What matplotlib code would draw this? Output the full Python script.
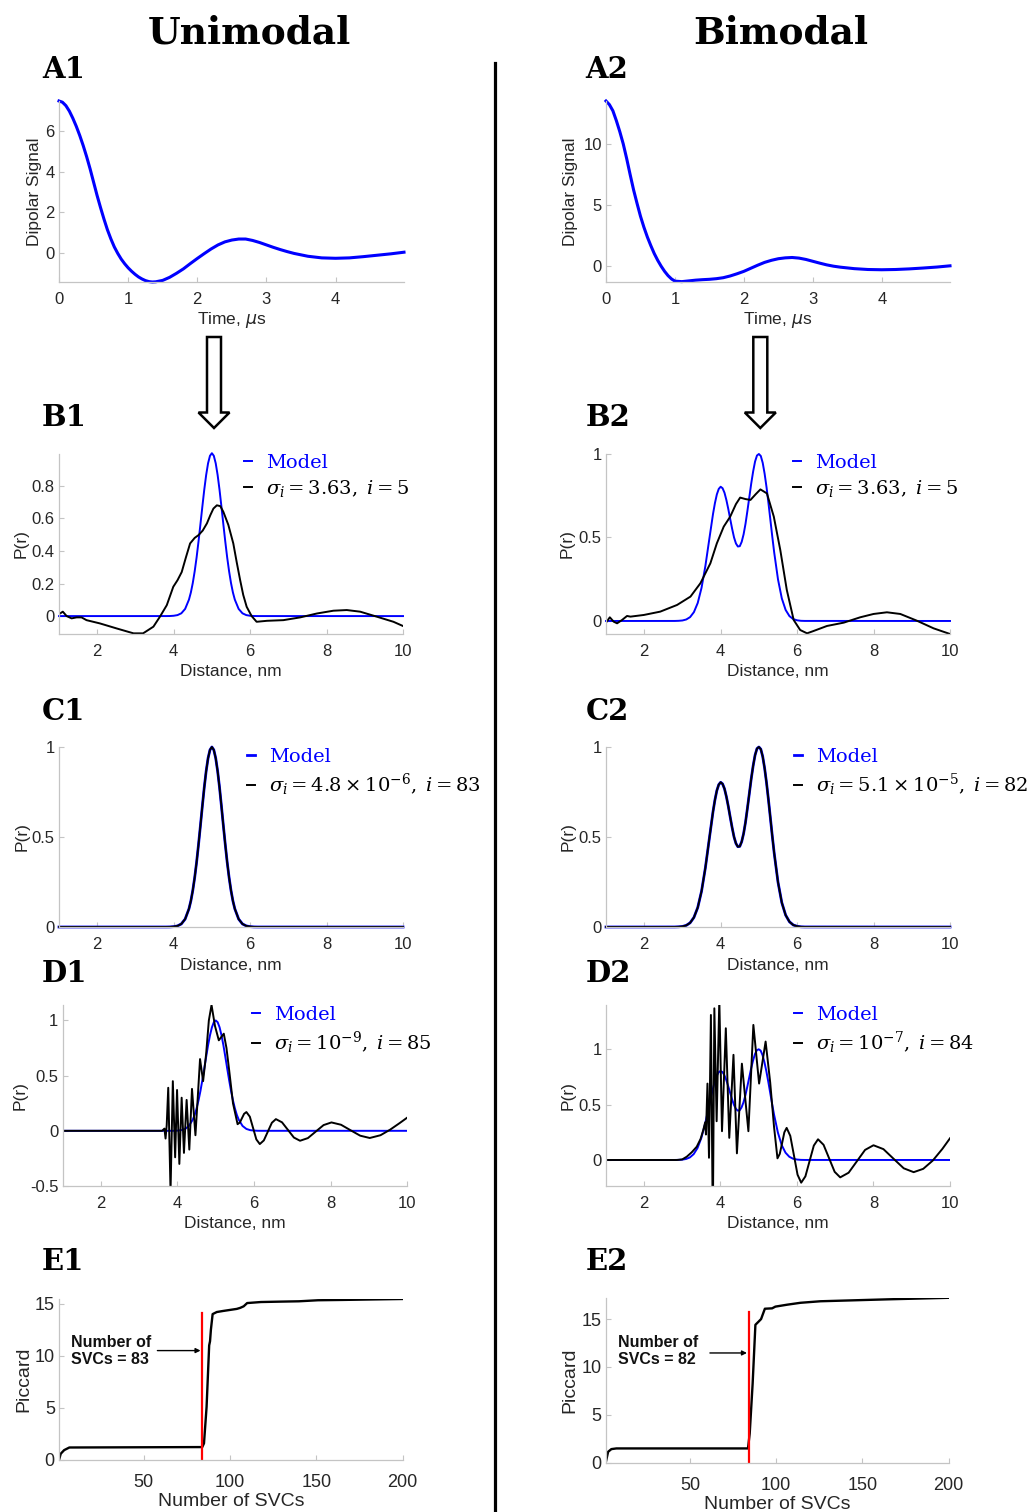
import matplotlib
matplotlib.use('Agg')
import matplotlib.pyplot as plt
from matplotlib.lines import Line2D
from matplotlib.patches import FancyArrow
from matplotlib.font_manager import FontProperties
from matplotlib.ticker import FuncFormatter

W, H = 1035, 1512
plt.rcParams['font.family'] = ['Liberation Sans', 'DejaVu Sans']
plt.rcParams['axes.unicode_minus'] = False

# ---------------- data ----------------
# A1 dipolar signal (unimodal)
a1_t = [0, 0.05, 0.1, 0.15, 0.2, 0.25, 0.3, 0.35, 0.4, 0.45, 0.5, 0.55, 0.6, 0.65, 0.7, 0.75,
        0.8, 0.85, 0.9, 0.95, 1.0, 1.05, 1.1, 1.15, 1.2, 1.25, 1.3, 1.35, 1.4, 1.5, 1.6, 1.7,
        1.8, 1.9, 2.0, 2.1, 2.2, 2.3, 2.4, 2.5, 2.6, 2.7, 2.8, 2.9, 3.0, 3.1, 3.2, 3.3, 3.4,
        3.6, 3.8, 4.0, 4.2, 4.4, 4.6, 4.8, 4.99]
a1_s = [7.5, 7.44, 7.27, 7.0, 6.65, 6.25, 5.8, 5.3, 4.75, 4.15, 3.5, 2.85, 2.25, 1.68, 1.15,
        0.7, 0.3, -0.02, -0.3, -0.53, -0.73, -0.9, -1.05, -1.18, -1.28, -1.36, -1.41, -1.43,
        -1.42, -1.35, -1.2, -1.0, -0.78, -0.52, -0.27, -0.03, 0.2, 0.4, 0.55, 0.64, 0.69, 0.69,
        0.62, 0.52, 0.4, 0.28, 0.17, 0.07, -0.02, -0.16, -0.24, -0.26, -0.24, -0.18, -0.11,
        -0.04, 0.04]
# A2 dipolar signal (bimodal)
a2_t = [0, 0.05, 0.1, 0.15, 0.2, 0.25, 0.3, 0.35, 0.4, 0.45, 0.5, 0.55, 0.6, 0.65, 0.7, 0.75,
        0.8, 0.85, 0.9, 0.95, 1.0, 1.1, 1.2, 1.3, 1.4, 1.5, 1.6, 1.7, 1.8, 1.9, 2.0, 2.1, 2.2,
        2.3, 2.4, 2.5, 2.6, 2.7, 2.8, 2.9, 3.0, 3.1, 3.2, 3.3, 3.4, 3.6, 3.8, 4.0, 4.2, 4.4,
        4.6, 4.8, 4.99]
a2_s = [13.5, 13.2, 12.7, 11.9, 11.0, 10.0, 8.8, 7.5, 6.25, 5.15, 4.1, 3.2, 2.4, 1.7, 1.05, 0.5,
        0.02, -0.4, -0.75, -1.02, -1.2, -1.24, -1.18, -1.12, -1.08, -1.05, -1.0, -0.92, -0.78,
        -0.6, -0.4, -0.15, 0.1, 0.33, 0.5, 0.63, 0.7, 0.73, 0.68, 0.57, 0.42, 0.27, 0.13, 0.02,
        -0.06, -0.18, -0.25, -0.27, -0.25, -0.2, -0.13, -0.05, 0.05]

# Model distance distributions
uni_r = [1.0, 3.8, 3.9, 4.0, 4.1, 4.2, 4.3, 4.4, 4.45, 4.5, 4.55, 4.6, 4.65, 4.7, 4.75, 4.8,
         4.85, 4.9, 4.95, 5.0, 5.05, 5.1, 5.15, 5.2, 5.25, 5.3, 5.35, 5.4, 5.45, 5.5, 5.55, 5.6,
         5.7, 5.8, 5.9, 6.0, 6.1, 6.2, 10.0]
uni_p = [0, 0.0001, 0.0004, 0.002, 0.006, 0.017, 0.044, 0.101, 0.145, 0.203, 0.275, 0.360,
         0.458, 0.563, 0.671, 0.775, 0.866, 0.938, 0.984, 1.0, 0.984, 0.938, 0.866, 0.775, 0.671,
         0.563, 0.458, 0.360, 0.275, 0.203, 0.145, 0.101, 0.044, 0.017, 0.006, 0.002, 0.0004,
         0.0001, 0]
bi_r = [1.0, 2.8, 2.9, 3.0, 3.1, 3.2, 3.3, 3.4, 3.5, 3.6, 3.7, 3.8, 3.85, 3.9, 3.95, 4.0, 4.05,
        4.1, 4.15, 4.2, 4.25, 4.3, 4.35, 4.4, 4.45, 4.5, 4.55, 4.6, 4.65, 4.7, 4.75, 4.8, 4.85,
        4.9, 4.95, 5.0, 5.05, 5.1, 5.15, 5.2, 5.25, 5.3, 5.35, 5.4, 5.5, 5.6, 5.7, 5.8, 5.9, 6.0,
        6.1, 6.2, 10.0]
bi_p = [0, 0.0002, 0.001, 0.003, 0.009, 0.023, 0.053, 0.108, 0.199, 0.329, 0.486, 0.641, 0.706,
        0.758, 0.791, 0.804, 0.795, 0.768, 0.724, 0.670, 0.610, 0.552, 0.500, 0.464, 0.446,
        0.448, 0.474, 0.519, 0.582, 0.660, 0.742, 0.824, 0.896, 0.955, 0.991, 1.0, 0.988, 0.947,
        0.882, 0.801, 0.707, 0.607, 0.506, 0.411, 0.249, 0.135, 0.066, 0.029, 0.011, 0.004,
        0.001, 0.0003, 0]

# B: truncated reconstruction (sigma_i = 3.63, i = 5)
b1_r = [1.0, 1.1, 1.2, 1.33, 1.46, 1.59, 1.72, 2.07, 2.51, 2.95, 3.2, 3.47, 3.64, 3.82, 3.99,
        4.1, 4.21, 4.32, 4.43, 4.55, 4.65, 4.76, 4.87, 4.96, 5.04, 5.13, 5.22, 5.30, 5.43, 5.56,
        5.65, 5.74, 5.82, 5.91, 6.04, 6.17, 6.44, 6.87, 7.31, 7.75, 8.18, 8.53, 8.88, 9.32,
        9.75, 10.0]
b1_p = [0.012, 0.027, 0.0, -0.014, -0.008, -0.008, -0.025, -0.045, -0.076, -0.106, -0.106,
        -0.065, -0.004, 0.067, 0.18, 0.22, 0.27, 0.36, 0.446, 0.48, 0.497, 0.525, 0.569, 0.62,
        0.66, 0.68, 0.675, 0.64, 0.56, 0.446, 0.33, 0.22, 0.13, 0.057, 0.0, -0.035, -0.029,
        -0.025, -0.008, 0.016, 0.033, 0.037, 0.027, -0.004, -0.035, -0.061]
b2_r = [1.0, 1.1, 1.2, 1.29, 1.42, 1.55, 1.64, 1.99, 2.42, 2.86, 3.21, 3.47, 3.73, 3.9, 4.08,
        4.25, 4.4, 4.51, 4.65, 4.78, 4.92, 5.04, 5.21, 5.39, 5.56, 5.73, 5.91, 6.08, 6.26, 6.43,
        6.78, 7.22, 7.65, 8.0, 8.35, 8.7, 9.13, 9.57, 10.0]
b2_p = [-0.01, 0.022, -0.004, -0.014, 0.006, 0.03, 0.026, 0.036, 0.056, 0.096, 0.146, 0.226,
        0.345, 0.465, 0.565, 0.625, 0.7, 0.739, 0.73, 0.725, 0.76, 0.788, 0.764, 0.625, 0.425,
        0.186, 0.006, -0.054, -0.074, -0.06, -0.03, -0.01, 0.022, 0.042, 0.052, 0.042, 0.002,
        -0.044, -0.078]

# C: optimal reconstructions coincide with the models
c1_p = uni_p
c2_p = bi_p

# D: over-fitted reconstructions
d1_r = [1.0, 3.60, 3.66, 3.69, 3.72, 3.76, 3.82, 3.88, 3.94, 3.99, 4.05, 4.11, 4.17, 4.24, 4.31,
        4.38, 4.47, 4.53, 4.59, 4.67, 4.75, 4.82, 4.89, 4.98, 5.08, 5.21, 5.28, 5.35, 5.45, 5.57,
        5.63, 5.685, 5.74, 5.80, 5.89, 5.975, 6.06, 6.15, 6.255, 6.36, 6.465, 6.57, 6.73, 6.885,
        7.04, 7.2, 7.405, 7.61, 7.815, 8.02, 8.27, 8.52, 8.77, 9.02, 9.3, 9.55, 9.8, 10.0]
d1_p = [0, 0, 0.02, -0.07, 0.05, 0.39, -0.55, 0.45, -0.24, 0.37, -0.30, 0.30, -0.20, 0.28,
        -0.17, 0.38, -0.04, 0.30, 0.65, 0.45, 0.70, 1.0, 1.14, 0.95, 0.82, 0.88, 0.75, 0.55,
        0.25, 0.06, 0.076, 0.115, 0.154, 0.17, 0.128, 0.025, -0.078, -0.12, -0.087, -0.007,
        0.073, 0.106, 0.077, 0.008, -0.061, -0.09, -0.066, -0.007, 0.052, 0.076, 0.055, 0.005,
        -0.044, -0.065, -0.04, 0.01, 0.07, 0.12]
d2_r = [1.0, 2.86, 3.0, 3.12, 3.25, 3.38, 3.48, 3.55, 3.6, 3.62, 3.66, 3.70, 3.75, 3.80, 3.84,
        3.90, 3.97, 4.04, 4.14, 4.23, 4.34, 4.43, 4.56, 4.73, 4.86, 5.01, 5.18, 5.3, 5.4, 5.49,
        5.55, 5.61, 5.67, 5.73, 5.825, 5.92, 6.015, 6.11, 6.22, 6.33, 6.44, 6.55, 6.695, 6.84,
        6.985, 7.13, 7.35, 7.565, 7.78, 8.0, 8.26, 8.525, 8.79, 9.05, 9.3, 9.55, 9.8, 10.0]
d2_p = [0, 0, 0.005, 0.03, 0.07, 0.12, 0.19, 0.27, 0.34, 0.23, 0.69, 0.02, 1.31, -0.6, 1.37,
        0.35, 1.45, 0.26, 1.19, 0.20, 0.95, 0.06, 0.87, 0.26, 1.22, 0.69, 1.07, 0.7, 0.3, 0.015,
        0.055, 0.15, 0.25, 0.29, 0.218, 0.043, -0.133, -0.205, -0.148, -0.009, 0.13, 0.187,
        0.137, 0.015, -0.107, -0.157, -0.115, -0.012, 0.091, 0.133, 0.098, 0.011, -0.075, -0.11,
        -0.08, -0.005, 0.1, 0.196]

# E: Piccard curves
e1_n = [1, 2, 4, 7, 84, 85, 86.5, 88, 88.5, 89, 90, 92.4, 96, 100, 104, 106, 108, 110, 118, 130,
        140, 151, 165, 180, 200]
e1_v = [0, 0.6, 0.95, 1.2, 1.24, 1.6, 5.1, 11.0, 11.4, 12.5, 14.0, 14.2, 14.3, 14.4, 14.5, 14.6,
        14.75, 15.06, 15.16, 15.2, 15.23, 15.33, 15.36, 15.4, 15.45]
e2_n = [1, 2.4, 4.3, 7.2, 83.6, 84.6, 86.3, 87.9, 89.9, 91.2, 93.4, 97.6, 99.5, 106.3, 114.1,
        125.7, 145.2, 164.6, 200]
e2_v = [0, 1.14, 1.42, 1.49, 1.49, 3.05, 8.26, 14.4, 14.76, 15.0, 16.08, 16.12, 16.3, 16.5, 16.7,
        16.86, 16.96, 17.06, 17.22]
e1_cut, e1_cut_top = 84, 14.1
e2_cut, e2_cut_top = 84, 15.7

a_xticks = [0, 1, 2, 3, 4]
a1_yticks = [0, 2, 4, 6]
a2_yticks = [0, 5, 10]
r_xticks = [2, 4, 6, 8, 10]
b1_yticks = [0, 0.2, 0.4, 0.6, 0.8]
half_yticks = [0, 0.5, 1]
d1_yticks = [-0.5, 0, 0.5, 1]
e_xticks = [50, 100, 150, 200]
e_yticks = [0, 5, 10, 15]

lab_b = [r'$\sigma_i = 3.63,\; i = 5$', r'$\sigma_i = 3.63,\; i = 5$']
lab_c = [r'$\sigma_i = 4.8 \times 10^{-6},\; i = 83$',
         r'$\sigma_i = 5.1 \times 10^{-5},\; i = 82$']
lab_d = [r'$\sigma_i = 10^{-9},\; i = 85$', r'$\sigma_i = 10^{-7},\; i = 84$']
svc_text = ['Number of\nSVCs = 83', 'Number of\nSVCs = 82']

# ---------------- figure ----------------
BLUE = '#0000ff'
GRAY = '#c4c4c4'
TXT = '#262626'

fig = plt.figure(figsize=(W / 100, H / 100), dpi=100)
fmt = FuncFormatter(lambda v, _: f'{v:g}')


def add_ax(l, r, t, b, xpad=7):
    ax = fig.add_axes([l / W, 1 - b / H, (r - l) / W, (b - t) / H])
    for s in ['top', 'right']:
        ax.spines[s].set_visible(False)
    for s in ['left', 'bottom']:
        ax.spines[s].set_color(GRAY)
        ax.spines[s].set_linewidth(0.9)
    ax.tick_params(direction='in', length=3.5, width=0.8, color=GRAY, labelcolor=TXT,
                   labelsize=12)
    ax.tick_params(axis='x', pad=xpad)
    ax.tick_params(axis='y', pad=3)
    ax.xaxis.set_major_formatter(fmt)
    ax.yaxis.set_major_formatter(fmt)
    ax.patch.set_alpha(0)
    ax._hpx = b - t
    ax._wpx = r - l
    ax._l = l
    return ax


def labels(ax, xl, yl, ylab_x_px, xlab_dy=38, yfrac=0.5, mathsans=False, size=12.5):
    kw = dict(fontsize=size, color=TXT)
    if mathsans:
        kw['math_fontfamily'] = 'dejavusans'
    ax.set_xlabel(xl, **kw)
    ax.xaxis.set_label_coords(0.5, -xlab_dy / ax._hpx)
    ax.xaxis.label.set_va('center')
    ax.set_ylabel(yl, fontsize=size, color=TXT)
    ax.yaxis.set_label_coords((ylab_x_px - ax._l) / ax._wpx, yfrac)
    ax.yaxis.label.set_va('center')


leg_font = FontProperties(family='DejaVu Serif', size=14, math_fontfamily='dejavuserif')


def legend(ax, lines, lab, dash_px, top):
    ax.legend(lines, ['Model', lab], loc='upper left',
              bbox_to_anchor=((dash_px - ax._l) / ax._wpx, top), frameon=False,
              handlelength=0.4, handletextpad=0.75, labelspacing=0.3, borderpad=0,
              borderaxespad=0, prop=leg_font, labelcolor=[BLUE, 'black'])


# ---- A panels ----
for (l, r), t_, s_, yt, ylim, ylx in [((59, 404), a1_t, a1_s, a1_yticks, (-1.43, 7.5), 35),
                                       ((606, 950), a2_t, a2_s, a2_yticks, (-1.27, 13.5), 570)]:
    ax = add_ax(l, r, 101, 282)
    ax.plot(t_, s_, color=BLUE, lw=2.2, clip_on=False)
    ax.set_xlim(0, 4.99)
    ax.set_ylim(*ylim)
    ax.set_xticks(a_xticks)
    ax.set_yticks(yt)
    labels(ax, 'Time, $\\mu$s', 'Dipolar Signal', ylx, xlab_dy=38, mathsans=True)

# ---- B panels ----
for (l, r), rr, pp, mr, mp, yt, ylim, ylx, dash, lab in [
        ((59, 403), b1_r, b1_p, uni_r, uni_p, b1_yticks, (-0.11, 0.995), 21, 244, lab_b[0]),
        ((606, 950), b2_r, b2_p, bi_r, bi_p, half_yticks, (-0.078, 1.0), 567, 793, lab_b[1])]:
    ax = add_ax(l, r, 454, 634)
    lm, = ax.plot(mr, mp, color=BLUE, lw=1.4, clip_on=False)
    lf, = ax.plot(rr, pp, color='black', lw=1.4)
    ax.set_xlim(1, 10)
    ax.set_ylim(*ylim)
    ax.set_xticks(r_xticks)
    ax.set_yticks(yt)
    labels(ax, 'Distance, nm', 'P(r)', ylx, xlab_dy=38)
    legend(ax, [lm, lf], lab, dash, top=1.0)

# ---- C panels ----
for (l, r), mr, mp, fp, ylx, dash, lab in [
        ((59, 403), uni_r, uni_p, c1_p, 22, 247, lab_c[0]),
        ((606, 950), bi_r, bi_p, c2_p, 568, 794, lab_c[1])]:
    ax = add_ax(l, r, 747, 927)
    lm, = ax.plot(mr, mp, color=BLUE, lw=2.0, clip_on=False)
    lf, = ax.plot(mr, fp, color='black', lw=1.4, clip_on=False)
    ax.set_xlim(1, 10)
    ax.set_ylim(0, 1)
    ax.set_xticks(r_xticks)
    ax.set_yticks(half_yticks)
    labels(ax, 'Distance, nm', 'P(r)', ylx, xlab_dy=38)
    legend(ax, [lm, lf], lab, dash, top=0.995)

# ---- D panels ----
for (l, r), rr, pp, mr, mp, yt, ylim, ylx, dash, lab in [
        ((62.5, 407.3), d1_r, d1_p, uni_r, uni_p, d1_yticks, (-0.5, 1.14), 20, 252, lab_d[0]),
        ((605.7, 950), d2_r, d2_p, bi_r, bi_p, half_yticks, (-0.235, 1.40), 568, 794, lab_d[1])]:
    ax = add_ax(l, r, 1005, 1186)
    lm, = ax.plot(mr, mp, color=BLUE, lw=1.4)
    lf, = ax.plot(rr, pp, color='black', lw=1.4)
    ax.set_xlim(1, 10)
    ax.set_ylim(*ylim)
    ax.set_xticks(r_xticks)
    ax.set_yticks(yt)
    labels(ax, 'Distance, nm', 'P(r)', ylx, xlab_dy=38)
    legend(ax, [lm, lf], lab, dash, top=0.995)

# ---- E panels ----
for (l, r, t, b), nn, vv, cut, cut_top, ylim, ylx, txt, txt_v, arr_from, arr_v in [
        ((59, 402.5, 1299, 1460), e1_n, e1_v, e1_cut, e1_cut_top, (0, 15.45), 23.5, svc_text[0],
         10.45, 58, 10.5),
        ((605.7, 948.5, 1298, 1462.7), e2_n, e2_v, e2_cut, e2_cut_top, (0, 17.2), 570,
         svc_text[1], 11.7, 61.5, 11.46)]:
    ax = add_ax(l, r, t, b, xpad=10)
    ax.plot(nn, vv, color='black', lw=1.7)
    ax.plot([cut, cut], [0, cut_top], color='red', lw=1.6)
    ax.set_xlim(1, 200)
    ax.set_ylim(*ylim)
    ax.set_xticks(e_xticks)
    ax.set_yticks(e_yticks)
    ax.tick_params(labelsize=13)
    labels(ax, 'Number of SVCs', 'Piccard', ylx, xlab_dy=42, size=14)
    ax.text(8, txt_v, txt, fontsize=11.5, fontweight='bold', color='#111111',
            ha='left', va='center', linespacing=1.15)
    ax.annotate('', xy=(cut - 1, arr_v), xytext=(arr_from, arr_v),
                arrowprops=dict(arrowstyle='-|>', color='black', lw=1.0, mutation_scale=7,
                                shrinkA=0, shrinkB=0))

# ---- titles, panel letters, divider, arrows ----
title_kw = dict(fontsize=27, fontweight='bold', family='DejaVu Serif', ha='center', va='center')
fig.text(249 / W, 1 - 33 / H, 'Unimodal', **title_kw)
fig.text(781 / W, 1 - 33 / H, 'Bimodal', **title_kw)

let_kw = dict(fontsize=21, fontweight='bold', family='DejaVu Serif', ha='left', va='center')
for name, x, y in [('A1', 42, 70), ('A2', 585, 70), ('B1', 42, 418), ('B2', 586, 418),
                   ('C1', 42, 712), ('C2', 586, 712), ('D1', 42, 973), ('D2', 586, 973),
                   ('E1', 42, 1261), ('E2', 586, 1261)]:
    fig.text(x / W, 1 - y / H, name, **let_kw)

fig.add_artist(Line2D([495 / W, 495 / W], [1 - 63 / H, 0], transform=fig.transFigure,
                      color='black', lw=2.3))

for xc in [214, 760.3]:
    fig.add_artist(FancyArrow(xc / 100, (H - 337) / 100, 0, -(428 - 337) / 100, width=0.14,
                              head_width=0.31, head_length=0.155, length_includes_head=True,
                              transform=fig.dpi_scale_trans, facecolor='white',
                              edgecolor='black', lw=1.8))

fig.savefig('out.png', dpi=100)
